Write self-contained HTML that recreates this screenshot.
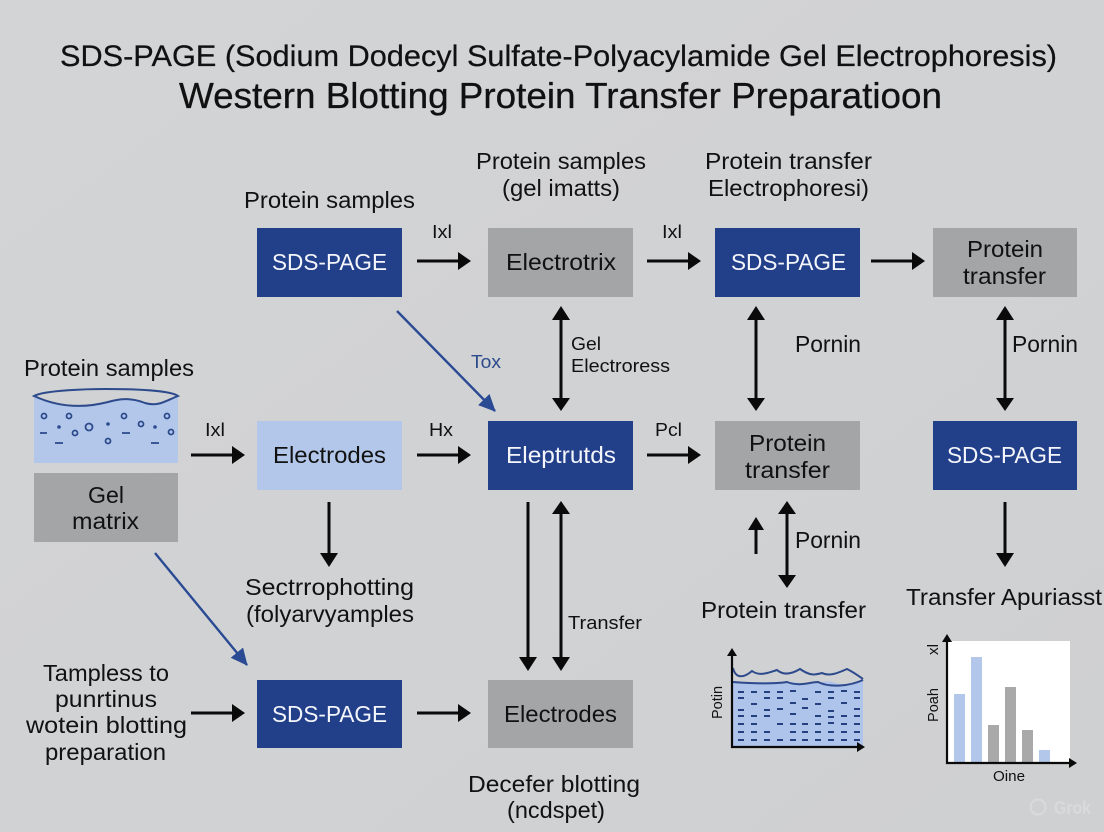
<!DOCTYPE html>
<html><head><meta charset="utf-8"><style>
html,body{margin:0;padding:0;width:1104px;height:832px;overflow:hidden;background:#d1d2d4}
svg{display:block}
text{font-family:"Liberation Sans",sans-serif;fill:#111;font-size:23px}
.w{fill:#f4f6fb}
.s{font-size:18.5px}
.l{stroke:#0a0a0a;stroke-width:3;fill:none}
.h{fill:#0a0a0a}
.n{fill:#223f8a}.g{fill:#a4a5a6}.b{fill:#b3c7ea}
.c{fill:none;stroke:#2d4a8c;stroke-width:1.8}
.d{stroke:#2a4a8a;stroke-width:1.8}
</style></head><body>
<svg width="1104" height="832" viewBox="0 0 1104 832" xmlns="http://www.w3.org/2000/svg">
<defs>
<linearGradient id="bg" x1="0" y1="0" x2="1" y2="1"><stop offset="0" stop-color="#d3d4d6"/><stop offset="1" stop-color="#cfd0d2"/></linearGradient>
<marker id="blue" markerUnits="userSpaceOnUse" markerWidth="20" markerHeight="16" refX="16" refY="8" orient="auto"><path d="M0 0L17 8L0 16Z" fill="#2a4a94"/></marker>
</defs>
<rect width="1104" height="832" fill="url(#bg)"/>

<text x="60" y="66" style="font-size:29.5px;stroke:#111;stroke-width:.25" textLength="997" lengthAdjust="spacingAndGlyphs">SDS-PAGE (Sodium Dodecyl Sulfate-Polyacylamide Gel Electrophoresis)</text>
<text x="179" y="108" style="font-size:36.5px;stroke:#111;stroke-width:.3" textLength="763" lengthAdjust="spacingAndGlyphs">Western Blotting Protein Transfer Preparatioon</text>

<!-- boxes -->
<rect class="n" x="257" y="228" width="145" height="69"/>
<rect class="g" x="488" y="228" width="145" height="69"/>
<rect class="n" x="715" y="228" width="145" height="69"/>
<rect class="g" x="933" y="228" width="144" height="69"/>
<rect class="b" x="257" y="421" width="145" height="69"/>
<rect class="n" x="488" y="421" width="145" height="69"/>
<rect class="g" x="715" y="421" width="145" height="69"/>
<rect class="n" x="933" y="421" width="144" height="69"/>
<rect class="g" x="34" y="473" width="144" height="69"/>
<rect class="n" x="257" y="680" width="145" height="68"/>
<rect class="g" x="488" y="680" width="145" height="68"/>

<!-- labels -->
<g>
<text x="244" y="208" textLength="171" lengthAdjust="spacingAndGlyphs">Protein samples</text>
<text x="476" y="169" textLength="170" lengthAdjust="spacingAndGlyphs">Protein samples</text>
<text x="502" y="196" textLength="118" lengthAdjust="spacingAndGlyphs">(gel imatts)</text>
<text x="705" y="169" textLength="167" lengthAdjust="spacingAndGlyphs">Protein transfer</text>
<text x="708" y="196" textLength="161" lengthAdjust="spacingAndGlyphs">Electrophoresi)</text>
<text class="s" x="432" y="238" textLength="20" lengthAdjust="spacingAndGlyphs">Ixl</text>
<text class="s" x="662" y="238" textLength="20" lengthAdjust="spacingAndGlyphs">Ixl</text>
<text class="w" x="272" y="270" textLength="115" lengthAdjust="spacingAndGlyphs">SDS-PAGE</text>
<text x="506" y="270" textLength="110" lengthAdjust="spacingAndGlyphs">Electrotrix</text>
<text class="w" x="731" y="270" textLength="115" lengthAdjust="spacingAndGlyphs">SDS-PAGE</text>
<text x="967" y="257" textLength="76" lengthAdjust="spacingAndGlyphs">Protein</text>
<text x="963" y="284" textLength="83" lengthAdjust="spacingAndGlyphs">transfer</text>
<text class="s" x="471" y="368" textLength="30" lengthAdjust="spacingAndGlyphs" style="fill:#2d4a8c">Tox</text>
<text class="s" x="571" y="350" textLength="30" lengthAdjust="spacingAndGlyphs">Gel</text>
<text class="s" x="571" y="372" textLength="99" lengthAdjust="spacingAndGlyphs">Electroress</text>
<text x="795" y="352" textLength="66" lengthAdjust="spacingAndGlyphs">Pornin</text>
<text x="1012" y="352" textLength="66" lengthAdjust="spacingAndGlyphs">Pornin</text>
<text x="24" y="376" textLength="170" lengthAdjust="spacingAndGlyphs">Protein samples</text>
<text class="s" x="205" y="436" textLength="20" lengthAdjust="spacingAndGlyphs">Ixl</text>
<text class="s" x="429" y="436" textLength="24" lengthAdjust="spacingAndGlyphs">Hx</text>
<text class="s" x="655" y="436" textLength="27" lengthAdjust="spacingAndGlyphs">Pcl</text>
<text x="273" y="463" textLength="113" lengthAdjust="spacingAndGlyphs">Electrodes</text>
<text class="w" x="506" y="463" textLength="110" lengthAdjust="spacingAndGlyphs">Eleptrutds</text>
<text x="749" y="451" textLength="77" lengthAdjust="spacingAndGlyphs">Protein</text>
<text x="745" y="478" textLength="85" lengthAdjust="spacingAndGlyphs">transfer</text>
<text class="w" x="947" y="463" textLength="115" lengthAdjust="spacingAndGlyphs">SDS-PAGE</text>
<text x="88" y="503" textLength="36" lengthAdjust="spacingAndGlyphs">Gel</text>
<text x="72" y="529" textLength="67" lengthAdjust="spacingAndGlyphs">matrix</text>
<text x="245" y="595" textLength="169" lengthAdjust="spacingAndGlyphs">Sectrrophotting</text>
<text x="246" y="622" textLength="168" lengthAdjust="spacingAndGlyphs">(folyarvyamples</text>
<text x="795" y="548" textLength="66" lengthAdjust="spacingAndGlyphs">Pornin</text>
<text x="701" y="618" textLength="165" lengthAdjust="spacingAndGlyphs">Protein transfer</text>
<text x="906" y="605" textLength="196" lengthAdjust="spacingAndGlyphs">Transfer Apuriasst</text>
<text class="s" x="568" y="629" textLength="74" lengthAdjust="spacingAndGlyphs">Transfer</text>
<text x="43" y="681" textLength="126" lengthAdjust="spacingAndGlyphs">Tampless to</text>
<text x="55" y="707" textLength="102" lengthAdjust="spacingAndGlyphs">punrtinus</text>
<text x="26" y="733" textLength="161" lengthAdjust="spacingAndGlyphs">wotein blotting</text>
<text x="45" y="760" textLength="121" lengthAdjust="spacingAndGlyphs">preparation</text>
<text class="w" x="272" y="722" textLength="115" lengthAdjust="spacingAndGlyphs">SDS-PAGE</text>
<text x="504" y="722" textLength="113" lengthAdjust="spacingAndGlyphs">Electrodes</text>
<text x="468" y="792" textLength="172" lengthAdjust="spacingAndGlyphs">Decefer blotting</text>
<text x="507" y="818" textLength="98" lengthAdjust="spacingAndGlyphs">(ncdspet)</text>
</g>

<!-- arrows -->
<g class="l">
<path d="M417 261H460M647 261H690M871 261H914M191 455H234M417 455H460M647 455H690M191 713H234M417 713H460"/>
<path d="M561 318V400M756 318V400M1005 318V400"/>
<path d="M528 502V658M561 514V658M329 502V555M1005 502V555M756 530V554M787 514V576"/>
</g>
<g class="h">
<path d="M458 252L471 261L458 270ZM688 252L701 261L688 270ZM912 252L925 261L912 270ZM232 446L245 455L232 464ZM458 446L471 455L458 464ZM688 446L701 455L688 464ZM232 704L245 713L232 722ZM458 704L471 713L458 722Z"/>
<path d="M552 320L561 306L570 320ZM552 398L561 411L570 398ZM747 320L756 306L765 320ZM747 398L756 411L765 398ZM996 320L1005 306L1014 320ZM996 398L1005 411L1014 398Z"/>
<path d="M519 657L528 671L537 657ZM552 514L561 501L570 514ZM552 657L561 671L570 657ZM320 553L329 567L338 553ZM996 553L1005 567L1014 553ZM748 530L756 517L764 530ZM778 514L787 501L796 514ZM778 575L787 588L796 575Z"/>
</g>
<path d="M397 311L495 411" stroke="#2a4a94" stroke-width="2.4" fill="none" marker-end="url(#blue)"/>
<path d="M155 553L247 665" stroke="#2a4a94" stroke-width="2.4" fill="none" marker-end="url(#blue)"/>

<!-- sample illustration -->
<path class="b" d="M34 396C60 408 85 408 108 402C122 398 132 398 145 403C158 407 165 401 178 396V463H34Z"/>
<path d="M34 396C45 390 90 389 106 389C130 389 170 390 178 396C165 401 158 407 145 403C132 398 122 398 108 402C85 408 60 408 34 396Z" fill="#d1d2d4" stroke="#2d4a8c" stroke-width="2"/>
<g class="c">
<circle cx="44" cy="416" r="2.5"/><circle cx="69" cy="416" r="2.5"/><circle cx="75" cy="433" r="2.5"/><circle cx="89" cy="427" r="3.5"/><circle cx="108" cy="441" r="2.5"/><circle cx="124" cy="416" r="2.5"/><circle cx="141" cy="424" r="2.5"/><circle cx="167" cy="416" r="2.5"/><circle cx="171" cy="432" r="2.5"/>
</g>
<g fill="#2d4a8c"><circle cx="59" cy="427" r="1.8"/><circle cx="108" cy="424" r="1.8"/><circle cx="155" cy="427" r="1.8"/></g>
<path class="d" d="M40 433H47M55 443H63M122 433H130M151 443H159"/>

<!-- gel chart -->
<path d="M733 681C760 684 785 680 800 683C815 686 825 678 835 683C845 686 855 683 863 679V746H733Z" fill="#afc4ea"/>
<path d="M733 668C736 680 745 677 752 671C760 677 770 672 777 670C785 677 795 672 800 669C810 676 815 675 822 673C830 677 840 672 847 669C855 673 860 677 863 679" fill="none" stroke="#2d4a8c" stroke-width="2"/>
<path d="M733 682C760 684 775 684 787 682C800 687 810 682 818 682C830 688 850 686 863 680" fill="none" stroke="#2d4a8c" stroke-width="2"/>
<path d="M738 692H744M751 692H757M764 692H770M777 692H783M790 691H796M815 692H821M828 692H834M841 691H847M854 692H860M738 698H744M764 698H770M777 698H783M802 699H808M828 698H834M854 698H860M751 704H757M790 703H796M815 704H821M841 703H847M738 710H744M764 710H770M777 709H783M802 708H808M828 711H834M854 709H860M738 716H744M751 716H757M764 716H770M790 714H796M815 716H821M828 717H834M841 716H847M854 716H860M738 724H744M751 724H757M777 724H783M790 724H796M802 724H808M815 724H821M828 723H834M841 724H847M854 724H860M738 732H744M751 732H757M764 732H770M790 732H796M802 732H808M815 732H821M828 732H834M841 732H847M854 732H860M738 740H744M751 740H757M764 740H770M777 740H783M790 740H796M802 740H808M815 740H821M828 740H834M841 740H847M854 740H860" stroke="#24407e" stroke-width="2" fill="none"/>
<path d="M732 656V747H858" stroke="#0a0a0a" stroke-width="2.2" fill="none"/>
<path d="M727 656L732 648L737 656ZM857 742L865 747L857 752Z" class="h"/>
<text transform="translate(722 719) rotate(-90)" style="font-size:15px" textLength="33" lengthAdjust="spacingAndGlyphs">Potin</text>

<!-- bar chart -->
<rect x="948" y="641" width="122" height="122" fill="#fff"/>
<rect class="b" x="954" y="694" width="11" height="69"/>
<rect class="b" x="971" y="657" width="11" height="106"/>
<rect x="988" y="725" width="11" height="38" fill="#a9a9aa"/>
<rect x="1005" y="687" width="11" height="76" fill="#a9a9aa"/>
<rect x="1022" y="730" width="11" height="33" fill="#a9a9aa"/>
<rect class="b" x="1039" y="750" width="11" height="13"/>
<path d="M947 642V763H1070" stroke="#0a0a0a" stroke-width="2.2" fill="none"/>
<path d="M942 642L947 634L952 642ZM1069 758L1077 763L1069 768Z" class="h"/>
<text transform="translate(938 722) rotate(-90)" style="font-size:15px" textLength="34" lengthAdjust="spacingAndGlyphs">Poah</text>
<text transform="translate(938 655) rotate(-90)" style="font-size:15px" textLength="11" lengthAdjust="spacingAndGlyphs">xl</text>
<text x="993" y="781" style="font-size:15px" textLength="32" lengthAdjust="spacingAndGlyphs">Oine</text>

<!-- watermark -->
<circle cx="1038" cy="807" r="7.5" fill="none" stroke="#d9dadc" stroke-width="2"/>
<text x="1054" y="814" style="font-size:18px;fill:#d9dadc;font-weight:bold" textLength="37" lengthAdjust="spacingAndGlyphs">Grok</text>
</svg>
</body></html>
